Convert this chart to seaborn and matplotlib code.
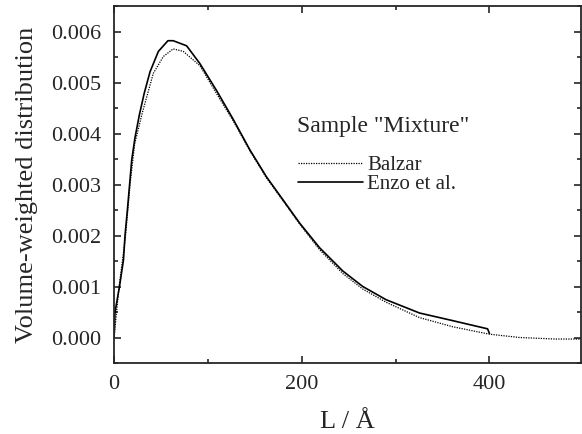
import numpy as np
import pandas as pd
import seaborn as sns
import matplotlib
matplotlib.use('Agg')
import matplotlib.pyplot as plt
import matplotlib.ticker as ticker

# values
enzo_L = [0, 1, 5.7, 10, 11.7, 14.2, 18.8, 22.3, 27, 32, 38.3, 47.2, 57.4, 63, 77.3, 91.5,
          109.3, 126.9, 144.7, 162.4, 180, 197.9, 219, 244, 265, 290, 325.5, 361, 398, 400]
enzo_v = [0, 0.0005, 0.00099, 0.00152, 0.00201, 0.0025, 0.00348, 0.00392, 0.00437,
          0.00478, 0.00521, 0.00561, 0.00582, 0.00582, 0.00572, 0.00537, 0.00484, 0.00428,
          0.00368, 0.00315, 0.00270, 0.00224, 0.00176, 0.00130, 0.00100, 0.00074,
          0.00048, 0.00033, 0.00017, 0.00008]

balzar_L = [0, 5, 12, 17, 22, 30, 41.8, 52.5, 63, 73.8, 91.5, 109.3, 126.9, 144.7,
            162.4, 180, 197.9, 219, 244, 265, 290, 325.5, 361, 400, 432, 470, 500]
balzar_v = [0, 0.00095, 0.00195, 0.0030, 0.0038, 0.0044, 0.00518, 0.00551, 0.00566,
            0.00561, 0.00533, 0.00478, 0.00425, 0.00366, 0.00313, 0.00268, 0.00222,
            0.00172, 0.00125, 0.00095, 0.00069, 0.00039, 0.00021, 0.000065, 0.0,
            -0.00003, -0.00003]

sns.set_style('ticks')
plt.rcParams['font.family'] = ['Liberation Serif', 'DejaVu Serif']

fig = plt.figure(figsize=(5.82, 4.34), dpi=100)
ax = fig.add_axes([0.196, 0.1636, 0.803, 0.8225])

sns.lineplot(x=balzar_L, y=balzar_v, ax=ax, color='black', linestyle=(0, (1, 1)),
             linewidth=0.9, label='Balzar', sort=False)
sns.lineplot(x=enzo_L, y=enzo_v, ax=ax, color='black', linestyle='-',
             linewidth=1.2, label='Enzo et al.', sort=False)

ax.set_xlim(0, 498)
ax.set_ylim(-0.0005, 0.0065)
ax.xaxis.set_major_locator(ticker.MultipleLocator(200))
ax.xaxis.set_minor_locator(ticker.MultipleLocator(100))
ax.yaxis.set_major_locator(ticker.MultipleLocator(0.001))
ax.yaxis.set_minor_locator(ticker.MultipleLocator(0.0005))
ax.yaxis.set_major_formatter(ticker.FormatStrFormatter('%.3f'))
ax.tick_params(which='both', direction='in', top=True, right=True, width=1.2)
ax.tick_params(which='major', length=5, labelsize=16, pad=9)
ax.tick_params(which='minor', length=3)
for s in ax.spines.values():
    s.set_linewidth(1.3)

ax.set_xlabel('L / Å', fontsize=19, labelpad=12)
ax.set_ylabel('Volume-weighted distribution', fontsize=19, labelpad=10)

ax.text(0.392, 0.663, 'Sample "Mixture"', transform=ax.transAxes,
        fontsize=17, ha='left', va='center')
ax.legend(frameon=False, fontsize=15, loc='upper left',
          bbox_to_anchor=(0.394, 0.582), handlelength=3.1, handletextpad=0.2,
          labelspacing=0.0, borderpad=0, borderaxespad=0)

fig.savefig('out.png', dpi=100)
